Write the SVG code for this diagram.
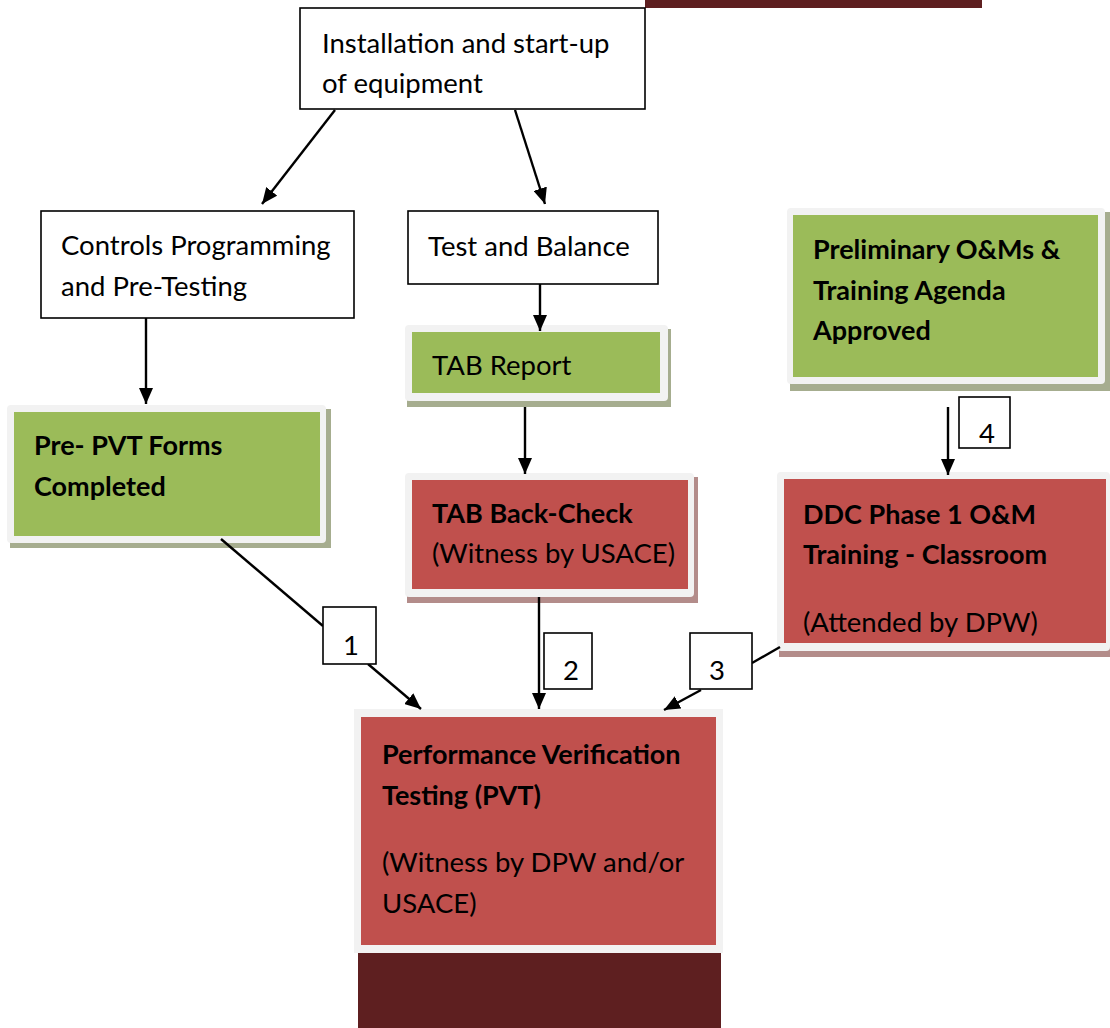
<svg xmlns="http://www.w3.org/2000/svg" width="1110" height="1028" viewBox="0 0 1110 1028">
<defs>
<marker id="ah" markerUnits="userSpaceOnUse" viewBox="0 0 16 14" markerWidth="16" markerHeight="14" refX="16" refY="7" orient="auto">
<path d="M0,0 L16,7 L0,14 z" fill="#000"/>
</marker>
</defs>
<style>
text{font-family:Lato,"Open Sans",sans-serif;font-size:27.5px;fill:#000}
.b{font-weight:bold;font-size:27px}
.plain{fill:#fff;stroke:#000;stroke-width:1.6}
.frame{fill:#f2f2f2}
.green{fill:#9bbb59}
.red{fill:#c0504d}
.gsh{fill:#a6ad8f}
.rsh{fill:#b38c8a}
.dark{fill:#5e1f20}
.lbl{fill:#fff;stroke:#000;stroke-width:1.6}
.conn line{stroke:#000;stroke-width:2.4;fill:none}
</style>
<rect class="dark" x="645" y="0" width="337" height="8"/>
<rect class="dark" x="358" y="953" width="363" height="75"/>

<g id="install">
<rect class="plain" x="300" y="8" width="345" height="101"/>
<text x="322" y="53">Installation and start-up</text>
<text x="322" y="93">of equipment</text>
</g>

<g id="controls">
<rect class="plain" x="41" y="211" width="313" height="107"/>
<text x="61" y="255">Controls Programming</text>
<text x="61" y="296">and Pre-Testing</text>
</g>

<g id="testbalance">
<rect class="plain" x="408" y="211" width="250" height="73"/>
<text x="428" y="256">Test and Balance</text>
</g>

<g id="prepvt">
<rect class="gsh" x="10" y="409" width="321" height="139"/>
<rect class="frame" x="7" y="405" width="319" height="138" rx="4"/>
<rect class="green" x="14" y="412" width="306" height="124"/>
<text class="b" x="34" y="455">Pre- PVT Forms</text>
<text class="b" x="34" y="496">Completed</text>
</g>

<g id="tabreport">
<rect class="gsh" x="407" y="329" width="264" height="78"/>
<rect class="frame" x="405" y="325" width="263" height="76" rx="4"/>
<rect class="green" x="412" y="332" width="248" height="61"/>
<text x="432" y="375">TAB Report</text>
</g>

<g id="tabbackcheck">
<rect class="rsh" x="407" y="477" width="291" height="126"/>
<rect class="frame" x="405" y="473" width="289" height="124" rx="4"/>
<rect class="red" x="412" y="480" width="276" height="109"/>
<text class="b" x="432" y="523">TAB Back-Check</text>
<text x="432" y="563">(Witness by USACE)</text>
</g>

<g id="prelim">
<rect class="gsh" x="790" y="212" width="320" height="179"/>
<rect class="frame" x="787" y="208" width="318" height="176" rx="4"/>
<rect class="green" x="793" y="215" width="305" height="162"/>
<text class="b" x="813" y="259">Preliminary O&amp;Ms &amp;</text>
<text class="b" x="813" y="300">Training Agenda</text>
<text class="b" x="813" y="340">Approved</text>
</g>

<g id="ddc">
<rect class="rsh" x="779" y="476" width="331" height="181"/>
<rect class="frame" x="777" y="472" width="333" height="179" rx="4"/>
<rect class="red" x="784" y="479" width="322" height="164"/>
<text class="b" x="803" y="524">DDC Phase 1 O&amp;M</text>
<text class="b" x="803" y="564">Training - Classroom</text>
<text x="803" y="632">(Attended by DPW)</text>
</g>

<g id="pvt">
<rect class="frame" x="354" y="709" width="369" height="244"/>
<rect class="red" x="361" y="717" width="355" height="228"/>
<text class="b" x="382" y="764">Performance Verification</text>
<text class="b" x="382" y="805">Testing (PVT)</text>
<text x="382" y="872">(Witness by DPW and/or</text>
<text x="382" y="913">USACE)</text>
</g>

<g id="connectors" class="conn">
<line x1="335" y1="110" x2="262" y2="204" marker-end="url(#ah)"/>
<line x1="515" y1="110" x2="545" y2="204" marker-end="url(#ah)"/>
<line x1="146" y1="318" x2="146" y2="404" marker-end="url(#ah)"/>
<line x1="540" y1="284" x2="540" y2="331" marker-end="url(#ah)"/>
<line x1="525" y1="407" x2="525" y2="474" marker-end="url(#ah)"/>
<line x1="948" y1="407" x2="948" y2="475" marker-end="url(#ah)"/>
<line x1="221" y1="539" x2="323" y2="626"/>
<line x1="368" y1="664" x2="421" y2="709" marker-end="url(#ah)"/>
<line x1="539" y1="597" x2="539" y2="709" marker-end="url(#ah)"/>
<line x1="780" y1="647" x2="752" y2="663"/>
<line x1="701" y1="690" x2="664" y2="710" marker-end="url(#ah)"/>
</g>

<g id="label1"><rect class="lbl" x="323" y="607" width="53" height="57"/><text x="343" y="655">1</text></g>
<g id="label2"><rect class="lbl" x="544" y="633" width="48" height="56"/><text x="563" y="680">2</text></g>
<g id="label3"><rect class="lbl" x="690" y="633" width="62" height="56"/><text x="709" y="680">3</text></g>
<g id="label4"><rect class="lbl" x="959" y="397" width="51" height="51"/><text x="979" y="443">4</text></g>
</svg>
